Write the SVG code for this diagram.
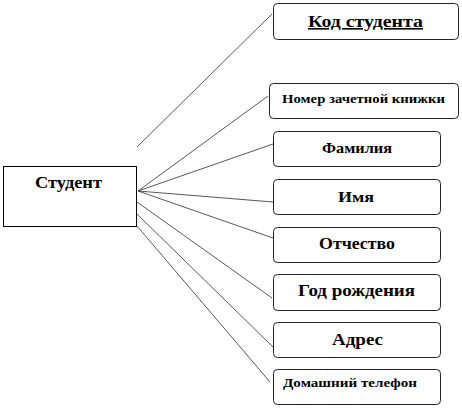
<svg xmlns="http://www.w3.org/2000/svg" width="462" height="408" viewBox="0 0 462 408">
<style>
.box{fill:#fff;stroke:#222;stroke-width:1}
.ent{fill:#fff;stroke:#000;stroke-width:1}
text{font-family:'Liberation Serif','DejaVu Serif',serif;font-weight:700;fill:#000}
.c line{stroke:#444;stroke-width:0.9}
</style>
<rect width="462" height="408" fill="#fff"/>
<g class="c" id="connectors">
<line x1="137" y1="147" x2="272" y2="14"/>
<line x1="138" y1="191" x2="268" y2="96"/>
<line x1="138" y1="191" x2="273" y2="144"/>
<line x1="138" y1="191" x2="273" y2="202"/>
<line x1="138" y1="191" x2="273" y2="238"/>
<line x1="137" y1="202" x2="272" y2="298"/>
<line x1="137" y1="214" x2="273" y2="347"/>
<line x1="137" y1="226" x2="270" y2="382"/>
</g>
<g id="student">
<rect class="ent" x="3.5" y="166.5" width="133" height="60"/>
<text x="35" y="188" font-size="16" textLength="67" lengthAdjust="spacingAndGlyphs">Студент</text>
</g>
<g id="kod">
<rect class="box" x="273.5" y="3.5" width="185" height="36" rx="4"/>
<text x="308" y="27" font-size="16" textLength="115" lengthAdjust="spacingAndGlyphs" text-decoration="underline">Код студента</text>
</g>
<g id="nomer">
<rect class="box" x="269.5" y="83.5" width="189" height="35" rx="4"/>
<text x="282" y="103" font-size="13" textLength="163" lengthAdjust="spacingAndGlyphs">Номер зачетной книжки</text>
</g>
<g id="familia">
<rect class="box" x="273.5" y="131.5" width="167" height="35" rx="4"/>
<text x="322" y="153" font-size="14" textLength="70" lengthAdjust="spacingAndGlyphs">Фамилия</text>
</g>
<g id="imya">
<rect class="box" x="273.5" y="179.5" width="167" height="35" rx="4"/>
<text x="338" y="202" font-size="15" textLength="36" lengthAdjust="spacingAndGlyphs">Имя</text>
</g>
<g id="otchestvo">
<rect class="box" x="273.5" y="227.5" width="167" height="35" rx="4"/>
<text x="319" y="249" font-size="16" textLength="76" lengthAdjust="spacingAndGlyphs">Отчество</text>
</g>
<g id="god">
<rect class="box" x="273.5" y="274.5" width="167" height="36" rx="4"/>
<text x="298" y="296" font-size="17" textLength="117" lengthAdjust="spacingAndGlyphs">Год рождения</text>
</g>
<g id="adres">
<rect class="box" x="273.5" y="322.5" width="167" height="35" rx="4"/>
<text x="332" y="345" font-size="16" textLength="51" lengthAdjust="spacingAndGlyphs">Адрес</text>
</g>
<g id="telefon">
<rect class="box" x="273.5" y="369.5" width="167" height="35" rx="4"/>
<text x="283" y="387" font-size="13" textLength="134" lengthAdjust="spacingAndGlyphs">Домашний телефон</text>
</g>
</svg>
